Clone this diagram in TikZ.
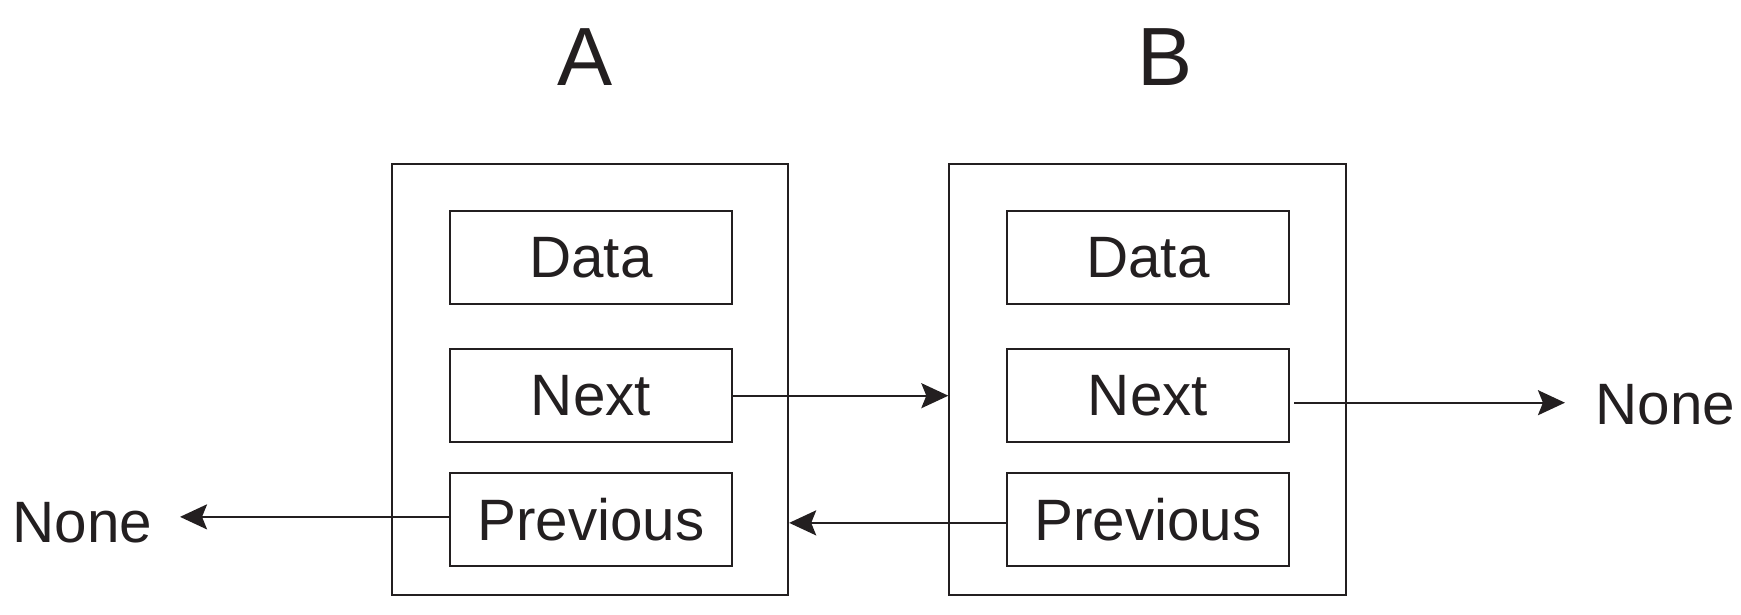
\documentclass[tikz,border=0pt]{standalone}
\usepackage{fontspec}
\setmainfont{Liberation Sans}
\usepackage{tikz}
\usepackage{xcolor}
\usetikzlibrary{arrows.meta,positioning}

\definecolor{ink}{HTML}{231F20}

\begin{document}
\begin{tikzpicture}
[x=0.01cm,y=-0.01cm,
      every node/.style={text=ink},
      listnode/.style={draw=ink,line width=0.6pt,minimum width=3.96cm,minimum height=4.31cm},
      field/.style={draw=ink,line width=0.6pt,minimum width=2.82cm,minimum height=0.93cm,
      font=\fontsize{16.6pt}{20pt}\selectfont},
      title/.style={font=\fontsize{23.5pt}{28pt}\selectfont,anchor=base,inner sep=0pt},
      nonetext/.style={font=\fontsize{16.6pt}{20pt}\selectfont,anchor=base west,inner sep=0pt},
      link/.style={draw=ink,line width=0.6pt,-{Stealth[length=0.27cm,width=0.25cm,inset=0.05cm]}}]
 \useasboundingbox (0,0) rectangle (1741,614);
 % the two list nodes
 \node[listnode] (nodeA) at (590,379.5) {};
 \node[listnode] (nodeB) at (1147.5,379.5) {};
 \node[title] (labelA) at (585,85) {A};
 \node[title] (labelB) at (1165,85) {B};
 % fields of A
 \node[field] (dataA) at (591,257.5) {Data};
 \node[field,below=0.43cm of dataA] (nextA) {Next};
 \node[field,below=0.29cm of nextA] (prevA) {Previous};
 % fields of B
 \node[field] (dataB) at (1148,257.5) {Data};
 \node[field,below=0.43cm of dataB] (nextB) {Next};
 \node[field,below=0.29cm of nextB] (prevB) {Previous};
 % ends of the list
 \node[nonetext] (noneR) at (1595,424) {None};
 \node[nonetext,anchor=base east] (noneL) at (153,542) {None};
 % links
 \draw[link] (nextA.east) -- (nextA.east -| nodeB.west);
 \draw[link,shorten <=0.04cm,shorten >=0.3cm] ([yshift=-0.07cm]nextB.east) -- ([yshift=-0.07cm]nextB.east -| noneR.west);
 \draw[link] ([yshift=-0.03cm]prevB.west) -- ([yshift=-0.03cm]prevB.west -| nodeA.east);
 \draw[link,shorten >=0.27cm] ([yshift=0.03cm]prevA.west) -- ([yshift=0.03cm]prevA.west -| noneL.east);
\end{tikzpicture}
\end{document}
